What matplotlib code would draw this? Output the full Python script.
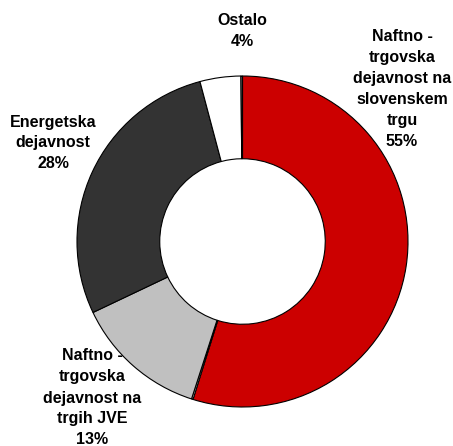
import matplotlib
matplotlib.use("Agg")
import matplotlib.pyplot as plt

# Data (clockwise from 12 o'clock)
categories = ["Naftno - trgovska dejavnost na slovenskem trgu", "",
              "Naftno - trgovska dejavnost na trgih JVE",
              "Energetska dejavnost", "Ostalo", ""]
shares = [55, 0.15, 13, 28, 4, 0.15]
colors = ["#CC0000", "#FFFFFF", "#C0C0C0", "#333333", "#FFFFFF", "#909090"]

label_texts = ["Naftno -\ntrgovska\ndejavnost na\nslovenskem\ntrgu\n55%",
               "Naftno -\ntrgovska\ndejavnost na\ntrgih JVE\n13%",
               "Energetska\ndejavnost\n28%",
               "Ostalo\n4%"]

W, H = 453, 446
fig = plt.figure(figsize=(W / 100, H / 100), dpi=100)
ax = fig.add_axes([0, 0, 1, 1])

cx, cy, R = 242.5, H - 241.5, 165.5
ax.pie(shares, colors=colors, startangle=90, counterclock=False,
       center=(cx, cy), radius=R,
       wedgeprops=dict(width=R * 0.5, edgecolor="black", linewidth=0.8))
ax.set_xlim(0, W)
ax.set_ylim(0, H)
ax.set_aspect("equal")
ax.axis("off")

label_pos = [(402, H - 89), (92, H - 398), (53, H - 143), (242, H - 31)]
for txt, (x, y) in zip(label_texts, label_pos):
    ax.text(x, y, txt, ha="center", va="center", fontsize=11.5,
            fontweight="bold", family=["Liberation Sans", "DejaVu Sans"],
            linespacing=1.5, color="black")

fig.savefig("out.png", dpi=100, facecolor="white")
